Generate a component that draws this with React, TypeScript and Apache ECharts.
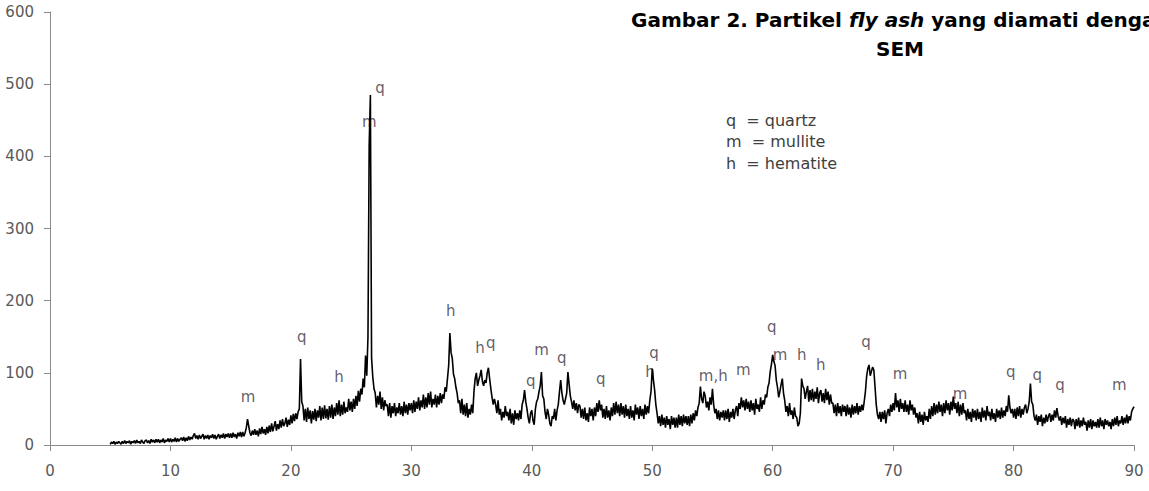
import React, { useEffect, useRef } from "react";
import * as echarts from "echarts";

// 2-theta grid: starts at 5°, step 0.1°, ends at 90°
const X_START = 5;
const X_STEP = 0.1;

// XRD intensity (counts), 10 values per degree
const intensity: number[] = [
  1, 4, 2, 5, 1, 4, 2, 5, 3, 1, // 5
  5, 2, 6, 2, 5, 3, 6, 1, 5, 3, // 6
  6, 2, 7, 3, 5, 2, 7, 4, 2, 6, // 7
  7, 3, 6, 2, 8, 4, 7, 3, 8, 4, // 8
  8, 3, 7, 4, 9, 3, 7, 5, 9, 4, // 9
  9, 4, 8, 5, 10, 4, 9, 5, 8, 10, // 10
  6, 11, 5, 10, 6, 12, 7, 11, 8, 13, // 11
  16, 9, 13, 8, 14, 9, 12, 15, 8, 13, // 12
  9, 14, 8, 13, 10, 15, 9, 14, 8, 12, // 13
  15, 9, 14, 10, 16, 9, 15, 11, 16, 10, // 14
  16, 10, 17, 11, 15, 9, 17, 12, 18, 11, // 15
  18, 12, 17, 24, 36, 26, 17, 13, 20, 14, // 16
  22, 14, 20, 12, 23, 15, 25, 16, 22, 14, // 17
  25, 16, 27, 18, 30, 19, 26, 33, 20, 29, // 18
  22, 34, 24, 36, 26, 30, 38, 25, 35, 28, // 19
  41, 30, 43, 33, 44, 36, 46, 50, 119, 60, // 20
  54, 34, 50, 32, 52, 36, 48, 30, 47, 35, // 21
  50, 33, 48, 38, 54, 34, 52, 36, 55, 37, // 22
  50, 35, 54, 38, 56, 36, 52, 40, 58, 42, // 23
  62, 40, 56, 42, 60, 44, 52, 46, 64, 48, // 24
  60, 46, 64, 50, 68, 54, 75, 60, 78, 70, // 25
  92, 80, 124, 96, 150, 415, 485, 120, 94, 78, // 26
  72, 52, 68, 56, 74, 50, 66, 48, 62, 54, // 27
  56, 40, 58, 38, 54, 44, 58, 40, 52, 44, // 28
  58, 42, 54, 40, 60, 44, 56, 42, 58, 48, // 29
  58, 44, 62, 46, 60, 50, 66, 48, 62, 52, // 30
  70, 50, 66, 52, 72, 56, 74, 52, 64, 56, // 31
  70, 52, 68, 56, 72, 58, 70, 64, 80, 74, // 32
  92, 110, 155, 128, 120, 98, 92, 80, 72, 58, // 33
  62, 44, 64, 42, 56, 40, 58, 38, 50, 42, // 34
  56, 44, 74, 92, 100, 82, 90, 96, 104, 88, // 35
  82, 90, 86, 100, 107, 92, 78, 66, 56, 64, // 36
  56, 44, 62, 42, 50, 34, 46, 38, 54, 40, // 37
  46, 34, 50, 30, 44, 28, 48, 36, 44, 34, // 38
  48, 36, 56, 62, 76, 60, 50, 38, 30, 44, // 39
  48, 34, 28, 50, 60, 64, 74, 82, 101, 68, // 40
  64, 46, 36, 50, 42, 30, 26, 40, 36, 50, // 41
  34, 48, 56, 74, 90, 72, 62, 56, 64, 72, // 42
  101, 84, 68, 60, 50, 62, 48, 58, 44, 56, // 43
  54, 38, 50, 36, 52, 34, 44, 32, 52, 40, // 44
  50, 34, 52, 40, 58, 46, 62, 48, 56, 38, // 45
  50, 36, 54, 38, 48, 34, 52, 40, 58, 42, // 46
  60, 44, 56, 40, 58, 42, 54, 38, 56, 40, // 47
  50, 36, 54, 38, 48, 34, 56, 42, 52, 36, // 48
  54, 40, 50, 36, 56, 42, 54, 44, 62, 74, // 49
  106, 90, 76, 56, 44, 30, 40, 26, 42, 28, // 50
  38, 24, 40, 28, 36, 22, 40, 28, 38, 24, // 51
  38, 24, 42, 28, 40, 26, 42, 30, 40, 28, // 52
  40, 26, 42, 30, 44, 34, 48, 40, 52, 58, // 53
  81, 64, 58, 74, 68, 52, 60, 48, 66, 56, // 54
  78, 56, 44, 50, 36, 48, 34, 46, 38, 48, // 55
  34, 48, 36, 50, 32, 46, 38, 50, 36, 48, // 56
  54, 40, 58, 50, 66, 52, 62, 48, 64, 50, // 57
  60, 46, 62, 48, 58, 42, 64, 50, 56, 46, // 58
  66, 50, 62, 56, 70, 66, 80, 86, 102, 112, // 59
  125, 116, 110, 90, 80, 66, 74, 84, 92, 72, // 60
  62, 46, 54, 40, 58, 42, 48, 36, 52, 40, // 61
  38, 26, 30, 44, 92, 82, 78, 64, 74, 82, // 62
  60, 76, 62, 78, 60, 74, 64, 80, 58, 72, // 63
  76, 60, 72, 58, 78, 62, 74, 56, 70, 58, // 64
  58, 44, 56, 40, 58, 44, 54, 40, 56, 46, // 65
  54, 40, 56, 42, 52, 38, 56, 42, 54, 44, // 66
  58, 42, 54, 46, 56, 48, 60, 74, 95, 106, // 67
  111, 96, 102, 108, 104, 80, 56, 42, 36, 46, // 68
  32, 46, 36, 48, 30, 44, 50, 40, 56, 46, // 69
  58, 48, 72, 52, 62, 46, 64, 50, 58, 46, // 70
  62, 46, 56, 42, 62, 48, 56, 42, 52, 38, // 71
  44, 30, 46, 32, 42, 28, 46, 34, 40, 32, // 72
  50, 36, 54, 40, 58, 42, 56, 44, 60, 46, // 73
  56, 40, 58, 44, 62, 48, 58, 42, 60, 48, // 74
  67, 50, 58, 44, 60, 40, 56, 42, 58, 44, // 75
  48, 34, 50, 36, 46, 32, 50, 38, 48, 34, // 76
  50, 36, 46, 32, 52, 38, 48, 34, 54, 40, // 77
  46, 34, 50, 36, 44, 32, 50, 38, 48, 36, // 78
  52, 38, 48, 40, 54, 46, 69, 52, 44, 50, // 79
  38, 50, 36, 52, 40, 54, 38, 50, 42, 52, // 80
  56, 44, 50, 60, 85, 60, 56, 40, 34, 42, // 81
  28, 40, 32, 42, 26, 38, 30, 42, 32, 40, // 82
  44, 32, 42, 34, 48, 38, 51, 40, 34, 40, // 83
  28, 38, 30, 40, 24, 36, 28, 38, 26, 36, // 84
  34, 22, 36, 26, 38, 24, 34, 26, 38, 28, // 85
  32, 20, 34, 24, 36, 22, 34, 26, 32, 24, // 86
  36, 24, 38, 26, 34, 22, 36, 28, 34, 26, // 87
  32, 22, 36, 26, 38, 28, 40, 26, 34, 30, // 88
  40, 28, 38, 30, 42, 30, 40, 34, 46, 50, // 89
  53, // 90
];

// Phase annotations: [2-theta, intensity position, text]
const peakLabelX = [16.44, 20.9, 24.0, 26.51, 27.4, 33.27, 35.7, 36.59, 39.91, 40.82, 42.49, 45.72, 49.82, 50.15, 55.07, 57.56, 59.92, 60.61, 62.41, 63.99, 67.75, 70.57, 75.55, 79.76, 81.97, 83.86, 88.78];
const peakLabelY = [67, 149, 94, 447, 495, 186, 134, 141, 88, 132, 121, 92, 101, 127, 95, 104, 163, 125, 125, 111, 143, 98, 70, 101, 97, 83, 83];
const peakLabelText = ["m", "q", "h", "m", "q", "h", "h", "q", "q", "m", "q", "q", "h", "q", "m,h", "m", "q", "m", "h", "h", "q", "m", "m", "q", "q", "q", "m"];

const legendLines = ["q  = quartz", "m  = mullite", "h  = hematite"];
const titleLine1 = "Gambar 2. Partikel {i|fly ash} yang diamati dengan";
const titleLine2 = "SEM";

const xTicks = { min: 0, max: 90, interval: 10 };
const yTicks = { min: 0, max: 600, interval: 100 };

export default function App() {
  const ref = useRef<HTMLDivElement>(null);
  useEffect(() => {
    if (!ref.current) return;
    const chart = echarts.init(ref.current, null, { renderer: "svg" });
    const lineData = intensity.map((v, i) => [
      Math.round((X_START + i * X_STEP) * 10) / 10,
      v,
    ]);
    const labelData = peakLabelText.map((t, i) => ({
      name: t,
      value: [peakLabelX[i], peakLabelY[i]],
    }));
    const font = "DejaVu Sans";
    chart.setOption({
      animation: false,
      backgroundColor: "#ffffff",
      grid: { left: 50, right: 15, top: 12, bottom: 46, containLabel: false },
      xAxis: {
        type: "value",
        min: xTicks.min,
        max: xTicks.max,
        interval: xTicks.interval,
        axisLine: { show: true, lineStyle: { color: "#8a8a8a", width: 1 } },
        axisTick: { show: true, inside: false, length: 6, lineStyle: { color: "#8a8a8a" } },
        splitLine: { show: false },
        axisLabel: { color: "#595959", fontSize: 15, fontFamily: font, margin: 18 },
      },
      yAxis: {
        type: "value",
        min: yTicks.min,
        max: yTicks.max,
        interval: yTicks.interval,
        axisLine: { show: true, lineStyle: { color: "#8a8a8a", width: 1 } },
        axisTick: { show: true, inside: false, length: 6, lineStyle: { color: "#8a8a8a" } },
        splitLine: { show: false },
        axisLabel: { color: "#595959", fontSize: 15, fontFamily: font, margin: 16 },
      },
      series: [
        {
          type: "line",
          data: lineData,
          showSymbol: false,
          symbol: "none",
          lineStyle: { color: "#000000", width: 1.6 },
          silent: true,
        },
        {
          type: "scatter",
          data: labelData,
          symbolSize: 0,
          silent: true,
          label: {
            show: true,
            position: "inside",
            formatter: "{b}",
            color: "#3a3440",
            fontSize: 15,
            fontFamily: font,
          },
        },
      ],
      graphic: [
        {
          type: "text",
          left: 631,
          top: 10,
          style: {
            text: titleLine1,
            font: `bold 20px "${font}"`,
            fill: "#000000",
            rich: { i: { fontStyle: "italic", fontWeight: "bold", fontSize: 20, fontFamily: font } },
          },
        },
        {
          type: "text",
          x: 900,
          y: 49,
          style: {
            text: titleLine2,
            font: `bold 20px "${font}"`,
            fill: "#000000",
            align: "center",
            verticalAlign: "middle",
          },
        },
        ...legendLines.map((t, i) => ({
          type: "text",
          x: 726,
          y: 120 + i * 21.5,
          style: {
            text: t,
            font: `16px "${font}"`,
            fill: "#404040",
            align: "left",
            verticalAlign: "middle",
          },
        })),
      ],
    });
    return () => chart.dispose();
  }, []);
  return (
    <div
      ref={ref}
      style={{ position: "fixed", left: 0, top: 0, width: 1149, height: 491, background: "#fff" }}
    />
  );
}
